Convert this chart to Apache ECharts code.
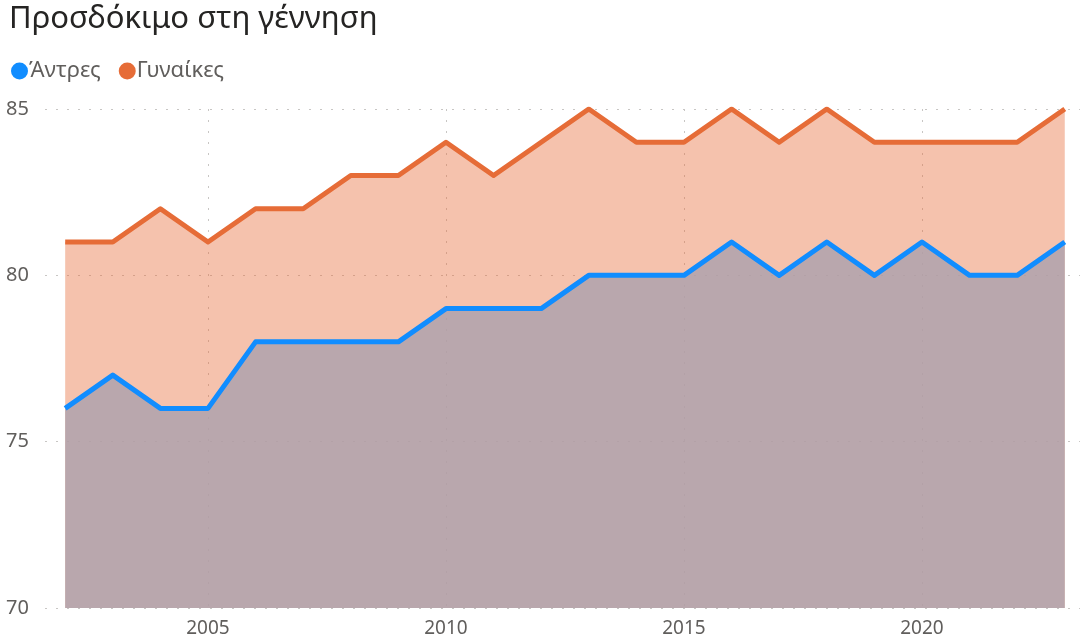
<!DOCTYPE html>
<html><head><meta charset="utf-8">
<script src="https://cdn.jsdelivr.net/npm/echarts@6/dist/echarts.min.js"></script>
<style>html,body{margin:0;padding:0;background:#fff}#c{width:1082px;height:642px}</style>
</head><body><div id="c"></div>
<script>
const years = [2002,2003,2004,2005,2006,2007,2008,2009,2010,2011,2012,2013,2014,2015,2016,2017,2018,2019,2020,2021,2022,2023];
const men   = [76,77,76,76,78,78,78,78,79,79,79,80,80,80,81,80,81,80,81,80,80,81];
const women = [81,81,82,81,82,82,83,83,84,83,84,85,84,84,85,84,85,84,84,84,84,85];
const xTicks = [2005,2010,2015,2020];
const yTicks = [70,75,80,85];
const font = '"Noto Sans", "DejaVu Sans", sans-serif';
const chart = echarts.init(document.getElementById('c'));
chart.setOption({
  animation:false,
  title:{text:'Προσδόκιμο στη γέννηση',left:4,top:-1,textStyle:{fontFamily:font,fontSize:31,fontWeight:'normal',color:'#252423'}},
  legend:{left:6,top:55,icon:'circle',itemWidth:17,itemHeight:17,itemGap:18,
    textStyle:{fontFamily:font,fontSize:22,color:'#605E5C',padding:[0,0,0,-4]},
    data:['Άντρες','Γυναίκες']},
  grid:{left:45,right:2,top:109,bottom:34,containLabel:false},
  xAxis:{type:'value',min:2001.576,max:2023.32,
    axisLine:{show:false},
    axisTick:{show:false,customValues:xTicks},
    axisLabel:{customValues:xTicks,formatter:v=>String(v),fontFamily:font,fontSize:19,color:'#605E5C',margin:11},
    splitLine:{show:true,lineStyle:{type:[2,9],color:'#C8C6C4',width:1}}},
  yAxis:{type:'value',min:yTicks[0],max:yTicks[yTicks.length-1],interval:5,
    axisLine:{show:false},axisTick:{show:false},
    axisLabel:{fontFamily:font,fontSize:20,color:'#605E5C',margin:16},
    splitLine:{show:true,lineStyle:{type:[2,9],color:'#C8C6C4',width:1}}},
  series:[
    {name:'Γυναίκες',type:'line',data:years.map((y,i)=>[y,women[i]]),symbol:'none',
     lineStyle:{color:'#E66C37',width:5,join:'round'},itemStyle:{color:'#E66C37'},
     areaStyle:{color:'rgba(230,108,55,0.41)',opacity:1,origin:'start'},z:2},
    {name:'Άντρες',type:'line',data:years.map((y,i)=>[y,men[i]]),symbol:'none',
     lineStyle:{color:'#118DFF',width:5,join:'round'},itemStyle:{color:'#118DFF'},
     areaStyle:{color:'rgba(172,161,173,0.82)',opacity:1,origin:'start'},z:3}
  ]
});
</script></body></html>
